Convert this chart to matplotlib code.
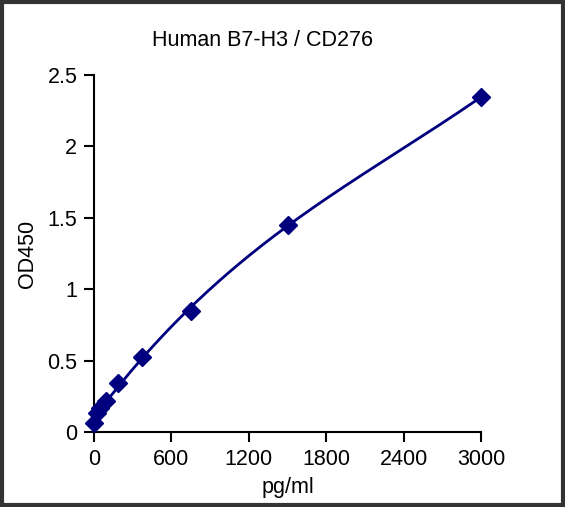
import numpy as np
import matplotlib
matplotlib.use("Agg")
import matplotlib.pyplot as plt

plt.rcParams['font.family'] = ['Liberation Sans', 'DejaVu Sans']

conc = [0, 23.44, 46.88, 93.75, 187.5, 375, 750, 1500, 3000]
od = [0.06, 0.13, 0.17, 0.22, 0.34, 0.525, 0.85, 1.45, 2.345]
xticks = [0, 600, 1200, 1800, 2400, 3000]
yticks = [0, 0.5, 1, 1.5, 2, 2.5]
ytick_labels = ["0", "0.5", "1", "1.5", "2", "2.5"]
title = "Human B7-H3 / CD276"
xlabel = "pg/ml"
ylabel = "OD450"

color = "#00007f"
fs = 15.5

fig = plt.figure(figsize=(5.65, 5.07), dpi=100)
ax = fig.add_axes([94/565, 75/507, 387/565, 357/507])

coef = np.polyfit(conc, od, 3)
xs = np.linspace(0, 3000, 400)
ax.plot(xs, np.polyval(coef, xs), color=color, lw=2, clip_on=False)
ax.plot(conc, od, linestyle='none', marker='D', markersize=9, color=color, clip_on=False, zorder=3)

ax.set_xlim(0, 3000)
ax.set_ylim(0, 2.5)
ax.set_xticks(xticks)
ax.set_yticks(yticks)
ax.set_yticklabels(ytick_labels)
for s in ['top', 'right']:
    ax.spines[s].set_visible(False)
for s in ['left', 'bottom']:
    ax.spines[s].set_linewidth(1.5)
ax.tick_params(direction='out', length=7, width=1.5, labelsize=fs, pad=5)
ax.set_xlabel(xlabel, fontsize=fs, labelpad=5)
ax.set_ylabel(ylabel, fontsize=fs, labelpad=7)
fig.text(262/565, 1-41/507, title, ha='center', va='center', fontsize=fs)

fig.patches.append(plt.Rectangle((0.003, 0.003), 0.994, 0.994, transform=fig.transFigure,
                                 fill=False, edgecolor='#333333', linewidth=3))
fig.savefig("out.png", dpi=100)
